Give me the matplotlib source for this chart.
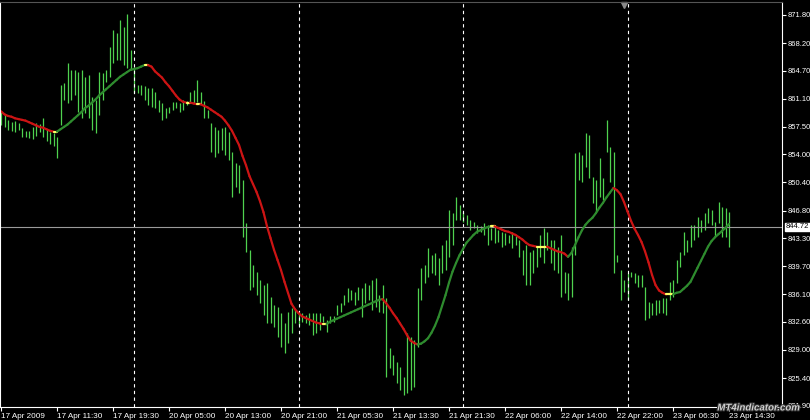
import numpy as np
import matplotlib
matplotlib.use("Agg")
import matplotlib.pyplot as plt
import matplotlib.patheffects as pe
from matplotlib.collections import LineCollection
from matplotlib.transforms import blended_transform_factory, ScaledTranslation

plt.rcParams["font.family"] = ["Liberation Sans", "DejaVu Sans"]

# 30分足の高値・安値 (左の足から順に)
bar_high = [
    859.4, 859.1, 858.4, 858.1, 858.3, 858.0, 857.4, 857.0, 857.0, 857.5,
    858.0, 857.9, 858.6, 857.2, 856.9, 856.7, 856.2, 862.9, 863.1, 865.7,
    864.8, 864.8, 864.5, 864.8, 863.9, 864.1, 861.3, 860.9, 864.5, 864.4,
    864.8, 867.7, 869.9, 869.5, 871.2, 870.3, 871.9, 867.3, 865.2, 862.9,
    862.9, 862.7, 862.5, 862.5, 862.0, 860.9, 860.6, 859.9, 860.0, 860.7,
    860.7, 860.6, 860.9, 860.8, 862.0, 862.2, 863.5, 862.0, 860.8, 859.7,
    858.0, 857.5, 857.1, 857.4, 857.5, 856.9, 854.3, 852.9, 852.6, 850.7,
    845.2, 841.8, 839.9, 839.0, 837.9, 837.3, 837.6, 835.8, 834.7, 834.5,
    833.7, 832.4, 833.8, 834.4, 834.1, 833.8, 833.7, 833.5, 833.7, 833.7,
    833.7, 833.7, 833.3, 832.8, 833.3, 833.3, 834.7, 835.0, 836.0, 836.9,
    836.7, 836.4, 837.0, 836.9, 837.6, 837.3, 837.9, 838.2, 836.0, 837.3,
    835.6, 829.2, 828.4, 827.5, 826.8, 825.5, 831.2, 830.7, 830.3, 836.9,
    839.5, 839.9, 842.0, 841.1, 841.4, 840.7, 842.4, 843.1, 846.9, 846.5,
    848.5, 847.5, 846.6, 846.2, 845.6, 845.3, 845.0, 844.8, 845.2, 845.0,
    844.6, 845.0, 844.3, 844.1, 844.0, 843.7, 844.1, 843.6, 843.1, 841.8,
    842.4, 841.5, 841.8, 842.3, 843.7, 844.6, 844.1, 843.1, 843.1, 842.2,
    843.7, 839.0, 838.8, 842.2, 854.2, 854.3, 853.9, 856.7, 856.5, 851.1,
    850.7, 853.5, 851.0, 858.4, 854.9, 854.3, 841.1, 839.2, 837.9, 838.8,
    839.0, 838.8, 838.6, 838.6, 837.0, 835.1, 835.0, 835.4, 835.4, 835.6,
    835.6, 837.7, 837.9, 840.5, 841.5, 844.1, 843.1, 845.0, 845.0, 846.0,
    845.6, 846.5, 847.1, 846.9, 845.3, 847.9, 847.3, 847.1, 846.6,
]
bar_low = [
    857.7, 857.5, 857.1, 857.0, 856.9, 857.1, 856.2, 856.2, 856.1, 856.0,
    856.3, 856.9, 856.2, 855.7, 855.3, 855.1, 853.5, 857.7, 860.9, 860.6,
    860.9, 861.6, 859.4, 858.6, 859.3, 858.6, 857.1, 856.7, 859.0, 860.9,
    863.2, 863.9, 865.7, 866.1, 866.1, 865.4, 865.0, 864.8, 861.8, 861.8,
    861.6, 860.9, 860.3, 860.0, 859.9, 859.4, 858.4, 858.6, 859.3, 859.7,
    859.9, 859.4, 859.7, 860.3, 860.6, 860.6, 860.7, 860.6, 858.6, 858.6,
    854.3, 853.7, 854.2, 854.6, 853.9, 853.3, 848.5, 849.8, 849.1, 843.4,
    841.5, 836.7, 837.0, 836.0, 835.0, 833.5, 832.4, 832.4, 831.9, 830.7,
    829.4, 828.6, 829.9, 831.2, 832.4, 832.2, 832.6, 832.4, 832.2, 830.9,
    831.2, 831.6, 832.6, 831.3, 832.4, 832.6, 833.5, 833.8, 834.7, 835.1,
    835.4, 834.7, 835.4, 833.2, 835.0, 835.4, 834.1, 834.5, 833.8, 833.7,
    825.5, 826.7, 825.8, 824.8, 823.9, 823.2, 823.5, 823.9, 824.3, 829.4,
    835.4, 837.6, 838.3, 838.8, 838.6, 837.3, 838.8, 839.2, 840.9, 842.4,
    845.6, 845.6, 845.3, 845.0, 844.3, 844.6, 844.0, 844.1, 843.7, 842.4,
    843.1, 842.7, 842.8, 842.2, 842.4, 842.7, 842.0, 842.4, 840.9, 838.6,
    837.3, 837.3, 838.8, 839.6, 840.9, 840.1, 841.8, 840.1, 839.2, 838.8,
    835.8, 836.3, 835.4, 835.8, 841.1, 850.7, 850.5, 852.4, 851.0, 847.8,
    846.6, 848.5, 848.2, 854.3, 850.5, 838.8, 840.2, 835.4, 836.4, 835.4,
    838.3, 837.6, 837.0, 837.0, 832.8, 833.1, 833.5, 833.5, 833.7, 833.7,
    833.5, 835.4, 835.8, 837.6, 839.6, 841.1, 841.5, 842.2, 843.1, 843.4,
    844.1, 844.3, 845.2, 845.0, 843.5, 845.2, 843.4, 843.4, 842.2,
]
# 移動平均 (インジケーターの値)
ma_line = [
    859.5, 859.1, 858.9, 858.8, 858.6, 858.5, 858.4, 858.3, 858.1, 857.9,
    857.7, 857.5, 857.4, 857.2, 857.0, 856.9, 856.9, 857.2, 857.5, 857.8,
    858.2, 858.6, 859.0, 859.4, 859.9, 860.2, 860.6, 861.0, 861.5, 861.9,
    862.3, 862.7, 863.1, 863.5, 863.9, 864.2, 864.5, 864.8, 864.9, 865.0,
    865.2, 865.4, 865.4, 865.2, 864.6, 864.2, 863.8, 863.2, 862.7, 862.1,
    861.5, 861.0, 860.7, 860.6, 860.6, 860.5, 860.4, 860.4, 860.2, 860.0,
    859.7, 859.4, 859.1, 858.8, 858.3, 857.7, 857.0, 856.1, 855.2, 853.8,
    852.6, 851.2, 850.2, 849.2, 848.0, 846.6, 844.8, 843.3, 841.8, 840.5,
    839.2, 837.7, 836.3, 834.9, 834.2, 833.7, 833.3, 833.1, 832.9, 832.7,
    832.5, 832.4, 832.3, 832.3, 832.6, 832.8, 833.0, 833.2, 833.4, 833.6,
    833.8, 834.0, 834.2, 834.4, 834.6, 834.8, 835.0, 835.2, 835.4, 835.5,
    835.0, 834.4, 833.7, 833.1, 832.4, 831.7, 830.9, 830.2, 829.9, 829.7,
    829.8, 830.1, 830.5, 831.2, 832.1, 833.2, 834.6, 836.0, 837.6, 839.0,
    840.1, 841.1, 841.9, 842.7, 843.2, 843.7, 844.1, 844.3, 844.5, 844.7,
    844.8, 844.8, 844.6, 844.4, 844.2, 844.1, 843.9, 843.7, 843.4, 843.1,
    842.7, 842.4, 842.3, 842.2, 842.2, 842.2, 842.2, 842.0, 841.8, 841.6,
    841.5, 841.3, 840.9, 841.4, 842.4, 843.4, 844.3, 845.0, 845.5, 845.9,
    846.5, 847.2, 847.8, 848.5, 849.1, 849.7, 849.4, 848.9, 847.9, 846.7,
    845.5, 844.5, 843.7, 842.8, 841.6, 840.2, 838.6, 837.3, 836.6, 836.3,
    836.1, 836.1, 836.1, 836.3, 836.4, 836.8, 837.2, 837.7, 838.6, 839.5,
    840.4, 841.3, 842.2, 842.9, 843.4, 843.8, 844.2, 844.6, 845.1,
]

price_ticks = [871.80, 868.20, 864.70, 861.10, 857.50, 854.00, 850.40, 846.80,
               843.30, 839.70, 836.10, 832.60, 829.00, 825.40, 821.90]
label_bars = [0, 16, 32, 48, 64, 80, 96, 112, 128, 144, 160, 176, 192, 208]
time_labels = ["17 Apr 2009", "17 Apr 11:30", "17 Apr 19:30", "20 Apr 05:00",
               "20 Apr 13:00", "20 Apr 21:00", "21 Apr 05:30", "21 Apr 13:30",
               "21 Apr 21:30", "22 Apr 06:00", "22 Apr 14:00", "22 Apr 22:00",
               "23 Apr 06:30", "23 Apr 14:30"]
day_breaks = [38, 85, 132, 179]
last_price = 844.72
shift_bar = 178

BAR_COLOR = "#4fd24f"
UP_COLOR = "#2e8b2e"
DOWN_COLOR = "#cc1414"
FLAT_COLOR = "#ffff66"


def ma_colors(values):
    """傾きで色分け: 上昇=緑, 下降=赤, 横ばい=黄"""
    d = np.diff(values)
    cols = []
    for v in d:
        if v > 0.05:
            cols.append(UP_COLOR)
        elif v < -0.05:
            cols.append(DOWN_COLOR)
        else:
            cols.append(FLAT_COLOR)
    return cols


fig = plt.figure(figsize=(8.1, 4.2), dpi=100, facecolor="black")
ax = fig.add_axes([0, 13 / 420, 782 / 810, 405 / 420])
ax.set_facecolor("black")

x = np.arange(len(bar_high))
ax.vlines(x, bar_low, bar_high, color=BAR_COLOR, lw=0.9)

# 区切り線 (日ごと)
for b in day_breaks:
    ax.axvline(b, color="white", lw=0.8, ls=(0, (3, 3)))

ax.axhline(last_price, color="#9a9a9a", lw=0.8)

pts = np.column_stack([x, ma_line])
segs = np.stack([pts[:-1], pts[1:]], axis=1)
lc = LineCollection(segs, colors=ma_colors(ma_line), linewidths=1.6,
                    capstyle="round")
ax.add_collection(lc)

ax.set_xlim(-1 / 3.5, 781 / 3.5)
ax.set_ylim(821.71, 873.46)

ax.yaxis.tick_right()
ax.set_yticks(price_ticks)
ax.set_yticklabels([f"{v:.2f}" for v in price_ticks])
ax.set_xticks(label_bars)
ax.set_xticklabels(time_labels)
xlabels = ax.get_xticklabels()
for t in xlabels:
    t.set_horizontalalignment("left")
# 最初のラベルは左端で少し切れている
xlabels[0].set_transform(xlabels[0].get_transform() +
                         ScaledTranslation(-4 / 100, 0, fig.dpi_scale_trans))
ax.tick_params(axis="both", colors="white", labelcolor="white",
               length=3, width=0.8, direction="out", pad=1)
ax.tick_params(axis="x", labelsize=5.9)
ax.tick_params(axis="y", labelsize=5.5)

for side in ["right", "bottom", "left"]:
    ax.spines[side].set_color("white")
    ax.spines[side].set_linewidth(0.8)
ax.spines["top"].set_color("#555555")

# 現在値ラベル
trans = blended_transform_factory(ax.transAxes, ax.transData)
ax.text(1.005, last_price, f"{last_price:.2f}", transform=trans, va="center",
        ha="left", fontsize=5.5, color="black",
        bbox=dict(boxstyle="square,pad=0.12", fc="white", ec="white"))

# シフトマーカー
ax.plot([shift_bar], [873.1], marker="v", color="#888888", ms=5,
        clip_on=False)

wm = fig.text(0.988, 0.018, "MT4indicator.com", ha="right", va="bottom",
              color="#d0d0d0", fontsize=7, fontweight="bold", style="italic")
wm.set_path_effects([pe.withStroke(linewidth=1.5, foreground="#333333")])

fig.savefig("out.png", dpi=100, facecolor="black")
